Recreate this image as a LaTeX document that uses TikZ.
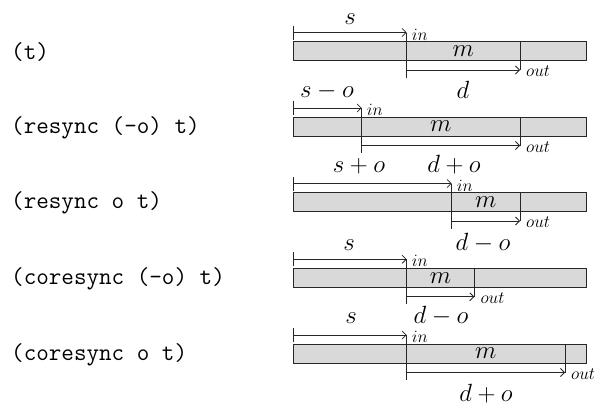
\documentclass[tikz,border=0pt]{standalone}
\usepackage{fontspec}
\usetikzlibrary{arrows.meta}
\begin{document}
\begin{tikzpicture}[x=1pt,y=-1pt,
  bar/.style={draw=black!85,fill=gray!30,line width=0.8pt,inner sep=0pt,outer sep=0pt,
    minimum width=293.7pt,minimum height=19pt,anchor=north west},
  divline/.style={draw=black!85,line width=0.8pt},
  durarrow/.style={draw=black!85,line width=0.8pt,{Bar[width=14pt]}-{Straight Barb[length=4pt,width=8pt]}},
  plainarrow/.style={draw=black!85,line width=0.8pt,-{Straight Barb[length=4pt,width=8pt]}},
  code/.style={font=\ttfamily\fontsize{24.4}{28}\selectfont,anchor=west,inner sep=0pt},
  lbl/.style={font=\fontsize{24.88}{28}\selectfont,anchor=base,inner sep=0pt},
  port/.style={font=\fontsize{17.28}{19}\selectfont,anchor=west,inner sep=0pt},
  mlabel/.style={font=\fontsize{24.88}{28}\selectfont,inner sep=0pt}]
\useasboundingbox (0,0) rectangle (601,405);
\foreach \i/\T/\pin/\pout/\txt in {
  1/41.5/406.7/520/{(t)},
  2/117/361.7/520/{(resync (-o) t)},
  3/192.5/451.7/520/{(resync o t)},
  4/268.3/406.7/474.3/{(coresync (-o) t)},
  5/344/406.7/565/{(coresync o t)}} {
  \node[code] (c\i) at (11,\T+10.5) {\txt};
  \node[bar] (bar\i) at (293,\T) {};
  \coordinate (s\i) at (293,\T-9);
  \coordinate (i\i) at (\pin,\T-9);
  \coordinate (ib\i) at (\pin,\T+36);
  \coordinate (ia\i) at (\pin,\T+28.5);
  \coordinate (ot\i) at (\pout,\T);
  \coordinate (o\i) at (\pout,\T+28.5);
  \draw[divline] (i\i) -- (ib\i);
  \draw[divline] (ot\i) -- (o\i);
  \draw[durarrow] (s\i) -- (i\i);
  \draw[plainarrow] (ia\i) -- (o\i);
  \node[port] (pi\i) at (\pin+5,\T-7) {$in$};
  \node[port] (po\i) at (\pout+6,\T+30) {$out$};
  \node[mlabel] (m\i) at ({(\pin+\pout)/2},\T+9.5) {$m$};
}
\node[lbl] (l1) at (350,24) {$s$};
\node[lbl] (l2) at (463,98) {$d$};
\node[lbl] (l3) at (327,97.5) {$s-o$};
\node[lbl] (l4) at (454,172.5) {$d+o$};
\node[lbl] (l5) at (359,172.5) {$s+o$};
\node[lbl] (l6) at (483,250.5) {$d-o$};
\node[lbl] (l7) at (349,250.5) {$s$};
\node[lbl] (l8) at (441,323) {$d-o$};
\node[lbl] (l9) at (351,323) {$s$};
\node[lbl] (l10) at (486,401) {$d+o$};
\end{tikzpicture}
\end{document}
